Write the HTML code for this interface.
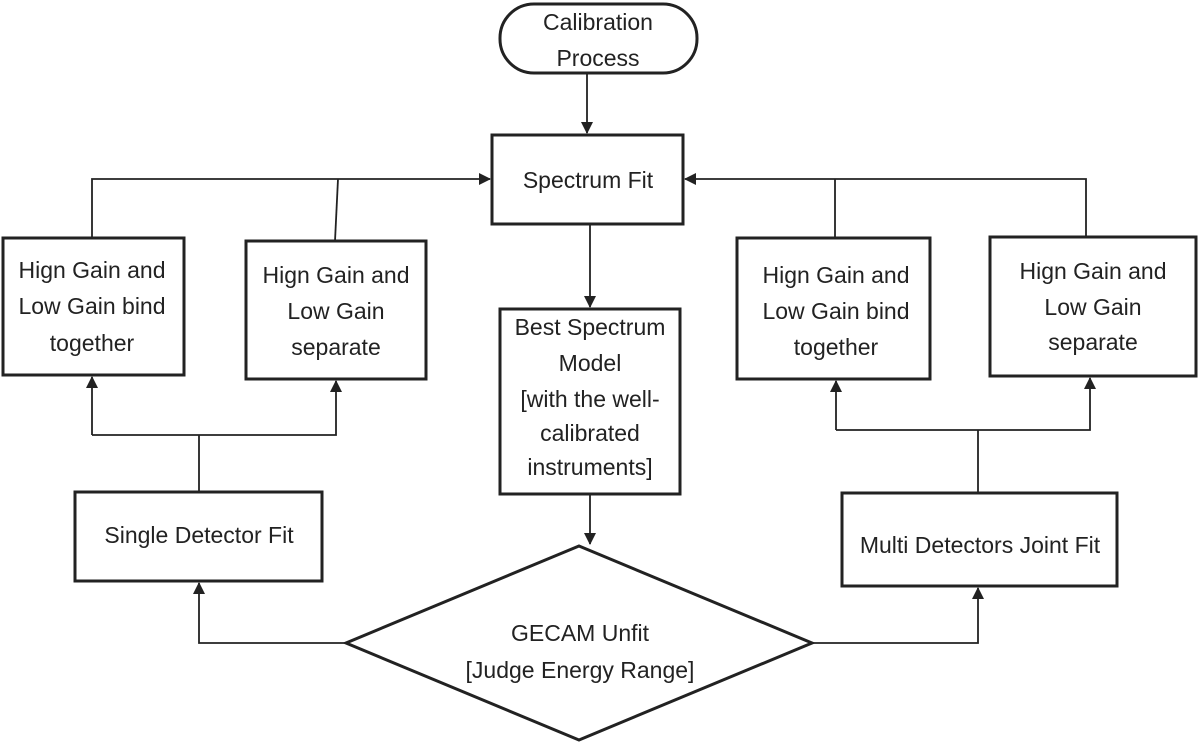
<!DOCTYPE html>
<html><head><meta charset="utf-8"><style>
body{margin:0;background:#fff}
svg{display:block}
text{font-family:"Liberation Sans",sans-serif;font-size:23px;fill:#222;text-anchor:middle}
</style></head><body>
<svg width="1200" height="746" viewBox="0 0 1200 746">
<defs><marker id="a" markerWidth="12" markerHeight="12" refX="11" refY="6" orient="auto" markerUnits="userSpaceOnUse"><path d="M0,0 L12,6 L0,12 z" fill="#222"/></marker></defs>
<g fill="none" stroke="#222" stroke-width="3">
<rect x="500" y="4" width="197" height="69" rx="34"/>
<rect x="492" y="135" width="191" height="89"/>
<rect x="3" y="238" width="181" height="137"/>
<rect x="246" y="241" width="180" height="138"/>
<rect x="737" y="238" width="193" height="141"/>
<rect x="990" y="237" width="206" height="139"/>
<rect x="500" y="309" width="180" height="185"/>
<rect x="75" y="492" width="247" height="89"/>
<rect x="842" y="493" width="275" height="93"/>
<polygon points="579,546 812,643 579,740 346,643"/>
</g>
<g fill="none" stroke="#222" stroke-width="1.8">
<line x1="587" y1="73" x2="587" y2="133" marker-end="url(#a)"/>
<line x1="590" y1="224" x2="590" y2="307" marker-end="url(#a)"/>
<line x1="590" y1="494" x2="590" y2="544" marker-end="url(#a)"/>
<polyline points="92,238 92,179 490,179" marker-end="url(#a)"/>
<line x1="335" y1="241" x2="338" y2="179"/>
<polyline points="1086,237 1086,179 685,179" marker-end="url(#a)"/>
<line x1="835" y1="238" x2="835" y2="179"/>
<polyline points="92,435 92,377" marker-end="url(#a)"/>
<polyline points="92,435 336,435 336,381" marker-end="url(#a)"/>
<line x1="199" y1="435" x2="199" y2="492"/>
<polyline points="346,643 199,643 199,583" marker-end="url(#a)"/>
<polyline points="812,643 978,643 978,588" marker-end="url(#a)"/>
<line x1="978" y1="493" x2="978" y2="430"/>
<polyline points="836,430 836,381" marker-end="url(#a)"/>
<polyline points="836,430 1090,430 1090,378" marker-end="url(#a)"/>
</g>
<text x="598" y="30">Calibration</text><text x="598" y="66">Process</text>
<text x="588" y="188">Spectrum Fit</text>
<text x="92" y="278">Hign Gain and</text><text x="92" y="314">Low Gain bind</text><text x="92" y="351">together</text>
<text x="336" y="283">Hign Gain and</text><text x="336" y="319">Low Gain</text><text x="336" y="355">separate</text>
<text x="836" y="283">Hign Gain and</text><text x="836" y="319">Low Gain bind</text><text x="836" y="355">together</text>
<text x="1093" y="279">Hign Gain and</text><text x="1093" y="315">Low Gain</text><text x="1093" y="350">separate</text>
<text x="590" y="335">Best Spectrum</text><text x="590" y="371">Model</text><text x="590" y="407">[with the well-</text><text x="590" y="441">calibrated</text><text x="590" y="475">instruments]</text>
<text x="199" y="543">Single Detector Fit</text>
<text x="980" y="553">Multi Detectors Joint Fit</text>
<text x="580" y="641">GECAM Unfit</text><text x="580" y="678">[Judge Energy Range]</text>
</svg>
</body></html>
